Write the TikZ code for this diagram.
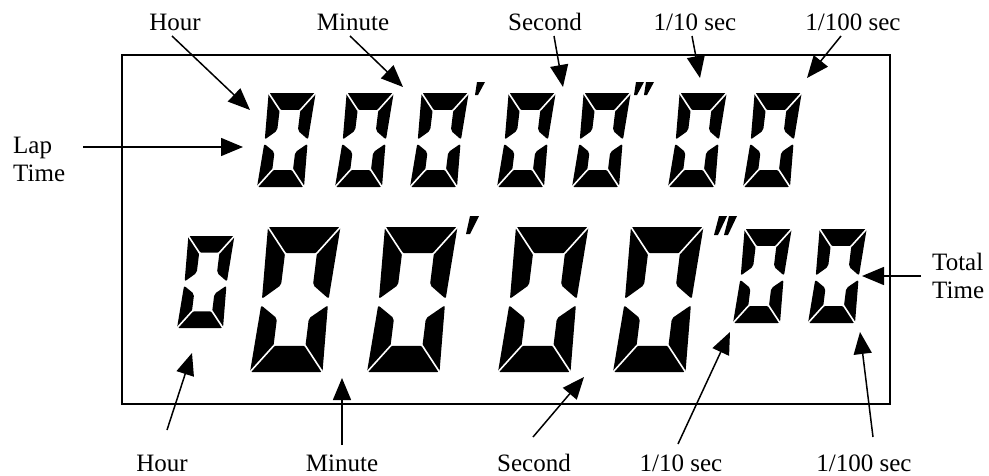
\documentclass[tikz,border=0pt]{standalone}
\usepackage{fontspec}
\setmainfont{Liberation Serif}
\usetikzlibrary{arrows.meta}

\tikzset{
  lbl/.style={font=\fontsize{25}{28}\selectfont, inner sep=0pt},
  ptr/.style={line width=1.5pt, -{Triangle[length=22pt,width=18pt]}},
  seg/.style={fill=black, rounded corners=2pt},
  gap/.style={draw=white, line width=1.6pt},
}

\begin{document}
\begin{tikzpicture}[x=1pt, y=-1pt]
    \useasboundingbox (0,0) rectangle (989,475);
    \draw[line width=2.5pt] (122,55) rectangle (890,404);
    % seven segment zeros: lower left corner and size
    \foreach \dx/\dy/\ds in {257/187/47, 335/187/47, 410/187/47, 497/187/47,
        572/187/47, 668/187/47, 743/187/47, 177/328/46, 250/372/72.5,
        367/372/72.5, 498/372/72.5, 613/372/72.5, 733/323/47, 808/323/47} {
      \begin{scope}[shift={(\dx,\dy)}, x=\ds pt, y=\ds pt, xslant=.124]
        \fill[seg] (0,2) -- (1,2) -- (.72,1.64) -- (.28,1.64) -- cycle;
        \fill[seg] (0,0) -- (1,0) -- (.72,.36) -- (.28,.36) -- cycle;
        \fill[seg] (0,2) -- (.28,1.64) -- (.28,1.2) -- (.04,1.01) -- cycle;
        \fill[seg] (0,0) -- (.28,.36) -- (.28,.74) -- (.04,.92) -- cycle;
        \fill[seg] (1,2) -- (.72,1.64) -- (.72,1.2) -- (.96,1.01) -- cycle;
        \fill[seg] (1,0) -- (.72,.36) -- (.72,.74) -- (.96,.92) -- cycle;
        \draw[gap] (0,2) -- (.28,1.64) (1,2) -- (.72,1.64)
                   (0,0) -- (.28,.36) (1,0) -- (.72,.36);
      \end{scope}
    }
    % minute and second marks
    \fill (477,82) -- (485,82) -- (478,95) -- (475,95) -- cycle;
    \fill (636,82) -- (644,82) -- (637,95) -- (634,95) -- cycle;
    \fill (646,82) -- (654,82) -- (647,95) -- (644,95) -- cycle;
    \fill (470,216) -- (479,216) -- (470,234) -- (466,234) -- cycle;
    \fill (719,216) -- (727,216) -- (718,235) -- (714,235) -- cycle;
    \fill (729,216) -- (737,216) -- (728,235) -- (724,235) -- cycle;

    \node[lbl] (hourT) at (175,22) {Hour};
    \node[lbl] (minT) at (353,22) {Minute};
    \node[lbl] (secT) at (545,22) {Second};
    \node[lbl] (tenthT) at (695,22) {1/10 sec};
    \node[lbl] (hundT) at (853,22) {1/100 sec};
    \node[lbl, align=left, anchor=west] (lap) at (13,159) {Lap\\Time};
    \node[lbl, align=left, anchor=west] (total) at (932,276) {Total\\Time};
    \node[lbl] (hourB) at (162,463) {Hour};
    \node[lbl] (minB) at (342,463) {Minute};
    \node[lbl] (secB) at (534,463) {Second};
    \node[lbl] (tenthB) at (681,463) {1/10 sec};
    \node[lbl] (hundB) at (864,463) {1/100 sec};

    \coordinate (hourTs) at (172,36);   \coordinate (hourTe) at (250,110);
    \coordinate (minTs) at (350,36);    \coordinate (minTe) at (403,87);
    \coordinate (secTs) at (554,36);    \coordinate (secTe) at (563,87);
    \coordinate (tenthTs) at (692,36);  \coordinate (tenthTe) at (700,78);
    \coordinate (hundTs) at (841,36);   \coordinate (hundTe) at (807,78);
    \coordinate (lapS) at (83,147);     \coordinate (lapE) at (243,147);
    \coordinate (totalS) at (921,276);  \coordinate (totalE) at (862,276);
    \coordinate (hourBs) at (167,430);  \coordinate (hourBe) at (192,353);
    \coordinate (minBs) at (342,445);   \coordinate (minBe) at (342,378);
    \coordinate (secBs) at (533,437);   \coordinate (secBe) at (584,377);
    \coordinate (tenthBs) at (678,444); \coordinate (tenthBe) at (730,332);
    \coordinate (hundBs) at (873,437);  \coordinate (hundBe) at (860,332);

    \foreach \a in {hourT,minT,secT,tenthT,hundT,hourB,minB,secB,tenthB,hundB}
      {\draw[ptr] (\a s) -- (\a e);}
    \draw[ptr] (lapS) -- (lapE);
    \draw[ptr] (totalS) -- (totalE);
\end{tikzpicture}
\end{document}
